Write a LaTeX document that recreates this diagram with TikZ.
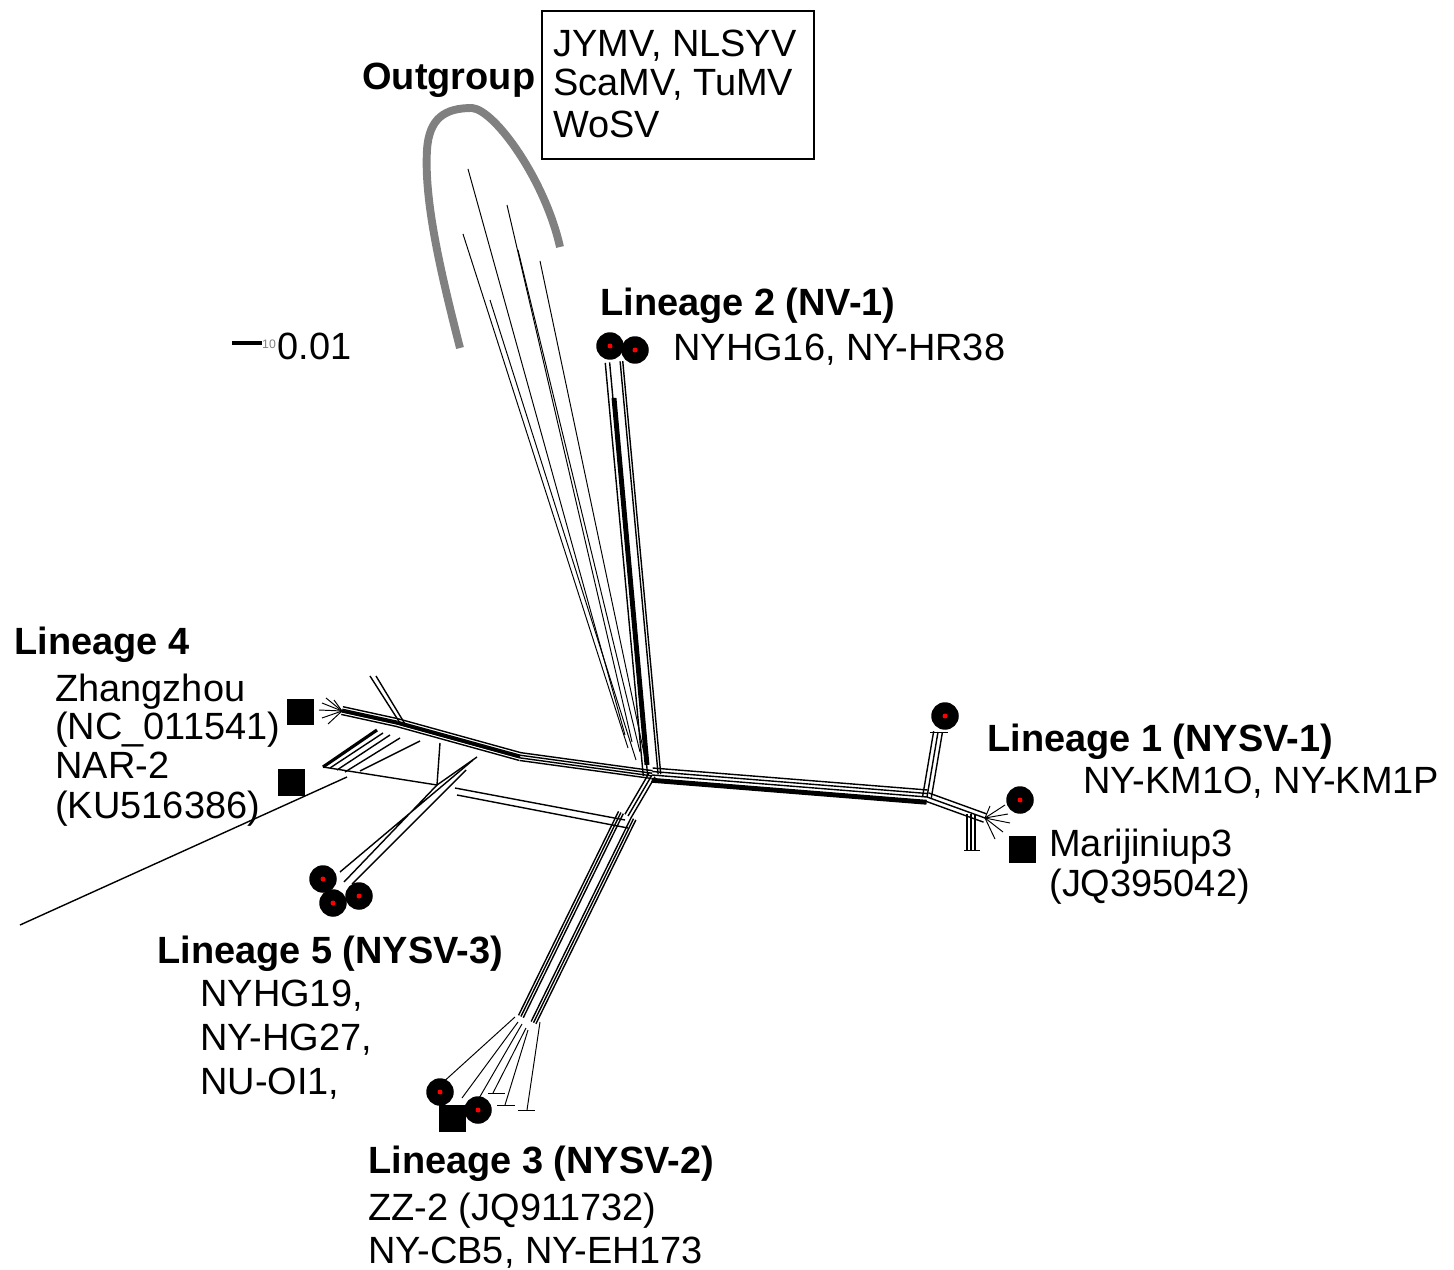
\documentclass[tikz,border=0pt]{standalone}
\usepackage{fontspec}
\setmainfont{Liberation Sans}
\usetikzlibrary{calc}
\tikzset{
  net/.style={line width=0.8pt},
  leaf/.style={circle, fill=black, minimum size=0.55cm, inner sep=0pt,
    path picture={\fill[red] (path picture bounding box.center) circle (0.05cm);}},
  ref/.style={rectangle, fill=black, minimum size=0.54cm, inner sep=0pt},
  lbl/.style={font=\fontsize{21.6}{25}\selectfont, inner sep=0pt, anchor=base west},
  lblb/.style={lbl, font=\fontsize{21.6}{25}\selectfont\bfseries}
}
\begin{document}
\begin{tikzpicture}[x=0.02cm, y=-0.02cm]
\useasboundingbox (0,0) rectangle (1454,1270);
\coordinate (c) at (652,775);
\coordinate (j1) at (927,797);
\coordinate (u1) at (938,732);
\coordinate (t1) at (985,818);
\coordinate (e2) at (614,362);
\coordinate (m4) at (520,757);
\coordinate (k4) at (397,723);
\coordinate (e4) at (342,711);
\coordinate (t3) at (628,816);
\coordinate (b3) at (528,1020);
% outgroup
\draw[gray, line width=4.5pt] (460,348) .. controls (440,270) and (424,200) .. (427,150)
  .. controls (429,118) and (445,108) .. (472,108) .. controls (495,110) and (545,180) .. (560,247);
\foreach \sx/\sy/\ex/\ey in {625/735/468/169, 632/742/507/205, 628/748/463/234, 640/752/518/250, 645/758/540/261, 636/760/490/300}
  \draw[line width=0.55pt] (\sx,\sy) -- (\ex,\ey);
% lineage 2
\foreach \o in {-5pt,-3.5pt,2.5pt,5pt}
  \draw[net] ($(c)!\o!90:(e2)$) -- ($(e2)!\o!-90:(c)$);
\draw[line width=2.8pt] (614,398) -- (647,765);
% lineage 1
\foreach \o in {-4pt,-2pt,0pt,2pt,4pt}
  \draw[net] ($(c)!\o!90:(j1)$) -- ($(j1)!\o!-90:(c)$);
\draw[line width=1.8pt] ($(c)!-3pt!90:(j1)$) -- ($(j1)!-3pt!-90:(c)$);
\foreach \o in {-2.5pt,0pt,2.5pt}
  \draw[net] ($(j1)!\o!90:(u1)$) -- ($(u1)!\o!-90:(j1)$);
\foreach \o in {-2.5pt,0pt,2.5pt}
  \draw[net] ($(j1)!\o!90:(t1)$) -- ($(t1)!\o!-90:(j1)$);
\foreach \ex/\ey in {1005/805, 1008/814, 1010/823, 1003/832, 995/839, 990/806}
  \draw[line width=0.55pt] (t1) -- (\ex,\ey);
\foreach \x in {967,971,975}
  \draw[net] (\x,814) -- (\x,850);
\draw[line width=0.55pt] (964,850) -- (980,850) (930,732) -- (948,732);
% lineage 4
\foreach \o in {-2.5pt,-1pt,0.5pt,2pt}{
  \draw[net] ($(c)!\o!90:(m4)$) -- ($(m4)!\o!-90:(c)$);
  \draw[net] ($(m4)!\o!90:(k4)$) -- ($(k4)!\o!-90:(m4)$);
  \draw[net] ($(k4)!\o!90:(e4)$) -- ($(e4)!\o!-90:(k4)$);
}
\draw[line width=1.6pt] (m4) -- (k4) -- (e4);
\foreach \ex/\ey in {322/703, 319/710, 322/718, 328/724, 334/700, 326/698}
  \draw[line width=0.55pt] (e4) -- (\ex,\ey);
\draw[net] (400,723) -- (370,676) (405,724) -- (376,676);
\draw[line width=1.8pt] (377,730) -- (323,767);
\draw[net] (383,733) -- (330,768) (390,735) -- (337,770) (400,738) -- (345,772);
\draw[net] (323,767) -- (437,785) -- (477,757) (437,785) -- (440,743);
\draw[net] (360,771) -- (420,741) (20,925) -- (347,777);
% lineage 5
\draw[net] (473,760) -- (340,872) (437,785) -- (344,882) (466,770) -- (352,884);
\draw[net] (455,788) -- (625,820) (457,795) -- (628,828);
% lineage 3
\foreach \o in {-6pt,-4.5pt,-3pt,2pt,3.5pt,5pt}
  \draw[net] ($(t3)!\o!90:(b3)$) -- ($(b3)!\o!-90:(t3)$);
\foreach \o in {-2pt,0pt,2pt}
  \draw[net] ($(c)!\o!90:(t3)$) -- ($(t3)!\o!-90:(c)$);
\foreach \sx/\sy/\ex/\ey in {515/1017/440/1085, 518/1022/462/1098, 522/1024/478/1100, 526/1028/493/1093, 528/1030/505/1105, 540/1022/527/1110}
  \draw[line width=0.55pt] (\sx,\sy) -- (\ex,\ey);
\draw[line width=0.55pt] (488,1093) -- (505,1093) (497,1105) -- (515,1105) (518,1110) -- (535,1110);
% scale
\draw[line width=1.8pt] (232,343) -- (262,343);
\node[font=\fontsize{7}{7}\selectfont, text=gray, inner sep=0pt] (tick) at (269,344) {10};
\node[lbl] (scale) at (277,360) {0.01};
% leaves
\node[leaf] (l2a) at (610,346) {};
\node[leaf] (l2b) at (635,350) {};
\node[leaf] (l1a) at (945,716) {};
\node[leaf] (l1b) at (1020,800) {};
\node[ref] (l1c) at (1022,849) {};
\node[ref] (l4a) at (300,712) {};
\node[ref] (l4b) at (291,782) {};
\node[leaf] (l5a) at (323,879) {};
\node[leaf] (l5c) at (359,896) {};
\node[leaf] (l5b) at (333,903) {};
\node[ref] (l3s) at (452,1118) {};
\node[leaf] (l3a) at (440,1092) {};
\node[leaf] (l3b) at (478,1110) {};
% labels
\node[draw, line width=1.4pt, minimum width=5.44cm, minimum height=2.96cm, anchor=north west] (ogbox) at (541,10) {};
\foreach \y/\t [count=\i] in {57/{JYMV, NLSYV}, 96/{ScaMV, TuMV}, 138/WoSV}
  \node[lbl] (og\i) at (553,\y) {\t};
\node[lblb] (og) at (362,90) {Outgroup};
\node[lblb] (ln2) at (600,316) {Lineage 2 (NV-1)};
\node[lbl] (ln2a) at (673,361) {NYHG16, NY-HR38};
\node[lblb] (ln4) at (14,654) {Lineage 4};
\foreach \y/\t [count=\i] in {701/Zhangzhou, 739/(NC\_011541), 778/NAR-2, 818/(KU516386)}
  \node[lbl] (ln4\i) at (55,\y) {\t};
\node[lblb] (ln1) at (987,751) {Lineage 1 (NYSV-1)};
\node[lbl] (ln1a) at (1083,793) {NY-KM1O, NY-KM1P};
\node[lbl] (ln1b) at (1049,856) {Marijiniup3};
\node[lbl] (ln1c) at (1049,896) {(JQ395042)};
\node[lblb] (ln5) at (157,963) {Lineage 5 (NYSV-3)};
\foreach \y/\t [count=\i] in {1006/{NYHG19,}, 1050/{NY-HG27,}, 1094/{NU-OI1,}}
  \node[lbl] (ln5\i) at (200,\y) {\t};
\node[lblb] (ln3) at (368,1173) {Lineage 3 (NYSV-2)};
\node[lbl] (ln3a) at (368,1220) {ZZ-2 (JQ911732)};
\node[lbl] (ln3b) at (368,1263) {NY-CB5, NY-EH173};
\end{tikzpicture}
\end{document}
